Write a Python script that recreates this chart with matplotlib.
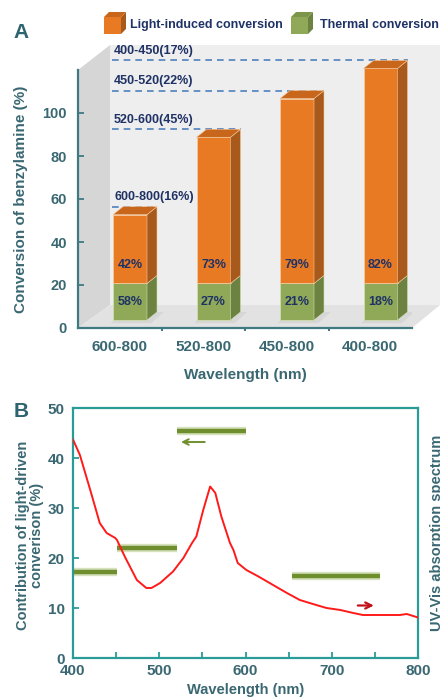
import matplotlib
matplotlib.use("Agg")
import matplotlib.pyplot as plt
from matplotlib.patches import Polygon, Rectangle
import numpy as np

plt.rcParams['font.family'] = ['Liberation Sans', 'DejaVu Sans']
plt.rcParams['font.weight'] = 'bold'

# ---------------- data: panel A ----------------
categories = ['600-800', '520-800', '450-800', '400-800']
thermal = [17, 17, 17, 17]
light = [32, 68, 86, 100]
light_pct = ['42%', '73%', '79%', '82%']
thermal_pct = ['58%', '27%', '21%', '18%']
range_labels = ['600-800(16%)', '520-600(45%)', '450-520(22%)', '400-450(17%)']
yticks_a = [0, 20, 40, 60, 80, 100]

# ---------------- data: panel B ----------------
wl = [400, 408, 420, 431, 439, 449, 451, 460, 474, 485, 491, 501, 516, 528, 538,
      543, 551, 559, 565, 572, 582, 586, 591, 601, 615, 628, 648, 663, 682, 694,
      710, 725, 736, 748, 759, 779, 787, 800]
absorb = [43.7, 40.6, 33.6, 27.0, 25.0, 24.0, 23.6, 20.3, 15.6, 14.0, 14.0, 15.0,
          17.3, 20.0, 23.0, 24.3, 29.6, 34.3, 33.0, 28.3, 23.0, 21.6, 19.0, 17.6,
          16.3, 15.0, 13.0, 11.6, 10.6, 10.0, 9.6, 9.0, 8.6, 8.6, 8.6, 8.6, 8.8, 8.1]
band_start = [400, 451, 520, 654]
band_end = [451, 520, 601, 756]
band_value = [17.2, 22.0, 45.5, 16.5]
green_arrow = [(556, 43.2), (522, 43.2)]
red_arrow = [(727, 10.5), (752, 10.5)]

# ---------------- style ----------------
W, H = 440, 700
teal_txt = '#3a6872'
navy = '#1f3266'
spine_a = '#3f7a80'
spine_b = '#2a9c98'
or_front, or_side, or_top, or_edge = '#E87A24', '#A85A1C', '#C8661C', '#F5C89A'
gr_front, gr_side, gr_top, gr_edge = '#8FA958', '#6C8240', '#7B9549', '#D0DDB0'

fig = plt.figure(figsize=(4.4, 7.0), dpi=100)

def px2fig(x, y):
    return x / W, 1 - y / H

# ---------------- Panel A ----------------
axA = fig.add_axes([78 / W, (H - 328) / H, 334 / W, 258 / H])
axA.set_xlim(0, 4)
axA.set_ylim(0, 120)
sx = 334 / 4.0     # px per x unit
sy = 258 / 120.0   # px per y unit

back_x0 = 32 / sx
back_x1 = 362 / sx
floor_y = 23 / sy
wall_top = 283 / sy

# left wall
axA.add_patch(Polygon([(0, 0), (back_x0, floor_y), (back_x0, wall_top), (0, 120)],
                      closed=True, fc='#d6d6d6', ec='none', zorder=0, clip_on=False))
# back wall
axA.add_patch(Polygon([(back_x0, floor_y), (back_x1, floor_y), (back_x1, wall_top), (back_x0, wall_top)],
                      closed=True, fc='#eeeeee', ec='none', zorder=0, clip_on=False))
# floor
axA.add_patch(Polygon([(0, 0), (4, 0), (back_x1, floor_y), (back_x0, floor_y)],
                      closed=True, fc='#e2e2e2', ec='none', zorder=0.5, clip_on=False))

base = 8 / sy
bw = 34 / sx
ddx = 10 / sx
ddy = 8 / sy

def box(x0, y0, y1, front, side, top, edge, with_top):
    axA.add_patch(Rectangle((x0, y0), bw, y1 - y0, fc=front, ec=edge, lw=0.6, zorder=3, clip_on=False))
    axA.add_patch(Polygon([(x0 + bw, y0), (x0 + bw + ddx, y0 + ddy), (x0 + bw + ddx, y1 + ddy), (x0 + bw, y1)],
                          closed=True, fc=side, ec=edge, lw=0.4, zorder=3, clip_on=False))
    if with_top:
        axA.add_patch(Polygon([(x0, y1), (x0 + bw, y1), (x0 + bw + ddx, y1 + ddy), (x0 + ddx, y1 + ddy)],
                              closed=True, fc=top, ec=edge, lw=0.4, zorder=3, clip_on=False))

for i in range(len(categories)):
    x0 = i + 35 / sx
    # shadow on floor
    axA.add_patch(Polygon([(x0 - 0.03, base - 1.5), (x0 + bw + 0.05, base - 1.5),
                           (x0 + bw + ddx + 0.08, base + ddy), (x0 + ddx, base + ddy)],
                          closed=True, fc='#cfcfcf', ec='none', zorder=1, alpha=0.6))
    g1 = base + thermal[i]
    t1 = g1 + light[i]
    box(x0, base, g1, gr_front, gr_side, gr_top, gr_edge, False)
    box(x0, g1, t1, or_front, or_side, or_top, or_edge, True)
    # dashed reference line
    yd = t1 + ddy
    axA.plot([34 / sx, x0 + bw + ddx], [yd, yd], ls=(0, (4, 3)), color='#4f81bd', lw=1.2,
             zorder=2, clip_on=False)
    axA.text(36 / sx, yd + 1.6, range_labels[i], fontsize=9, fontweight='bold', color=navy,
             ha='left', va='bottom', zorder=4, clip_on=False)
    cx = x0 + bw / 2
    axA.text(cx, g1 + 8.6, light_pct[i], fontsize=9, fontweight='bold', color=navy,
             ha='center', va='center', zorder=5)
    axA.text(cx, base + thermal[i] / 2, thermal_pct[i], fontsize=9, fontweight='bold', color=navy,
             ha='center', va='center', zorder=5)

for s in ['top', 'right']:
    axA.spines[s].set_visible(False)
for s in ['left', 'bottom']:
    axA.spines[s].set_color(spine_a)
    axA.spines[s].set_linewidth(1.6)
    axA.spines[s].set_zorder(6)
axA.set_yticks(yticks_a)
axA.tick_params(axis='y', direction='in', length=4, width=1.3, color=spine_a,
                labelsize=10.5, labelcolor=teal_txt, pad=8)
axA.set_xticks([0.5, 1.5, 2.5, 3.5])
axA.set_xticklabels(categories)
axA.set_xticks([1, 2, 3], minor=True)
axA.tick_params(axis='x', which='major', length=0, labelsize=11, labelcolor=teal_txt, pad=9)
axA.tick_params(axis='x', which='minor', direction='out', length=2.5, width=1.5, color=spine_a)
for lab in axA.get_xticklabels() + axA.get_yticklabels():
    lab.set_fontweight('bold')
axA.set_xlabel('Wavelength (nm)', fontsize=11, fontweight='bold', color=teal_txt, labelpad=10)
axA.set_ylabel('Conversion of benzylamine (%)', fontsize=11, fontweight='bold', color=teal_txt)
axA.yaxis.set_label_coords(-(78 - 28) / 334, 0.5)
axA.patch.set_visible(False)

fig.text(*px2fig(13, 32), 'A', fontsize=15, fontweight='bold', color='#2d6470', ha='left', va='center')

# legend cubes
def cube(xp, yp, front, side, top):
    s = 17
    d = 5
    pts_front = [px2fig(xp, yp + s), px2fig(xp + s, yp + s), px2fig(xp + s, yp), px2fig(xp, yp)]
    pts_side = [px2fig(xp + s, yp + s), px2fig(xp + s + d, yp + s - d), px2fig(xp + s + d, yp - d), px2fig(xp + s, yp)]
    pts_top = [px2fig(xp, yp), px2fig(xp + s, yp), px2fig(xp + s + d, yp - d), px2fig(xp + d, yp - d)]
    for pts, c in [(pts_front, front), (pts_side, side), (pts_top, top)]:
        fig.add_artist(Polygon(pts, closed=True, fc=c, ec='none', transform=fig.transFigure))

cube(104, 17, or_front, or_side, or_top)
fig.text(*px2fig(130, 25), 'Light-induced conversion', fontsize=9, fontweight='bold', color=navy,
         ha='left', va='center')
cube(291, 17, gr_front, gr_side, gr_top)
fig.text(*px2fig(320, 25), 'Thermal conversion', fontsize=9, fontweight='bold', color=navy,
         ha='left', va='center')

# ---------------- Panel B ----------------
axB = fig.add_axes([73 / W, (H - 658) / H, 345 / W, 250 / H])
axB.set_xlim(400, 800)
axB.set_ylim(0, 50)
axB.plot(wl, absorb, color='#ff1a1a', lw=1.4, zorder=3)
for s0, s1, v in zip(band_start, band_end, band_value):
    axB.plot([s0, s1], [v, v], color='#b5c98a', lw=6, alpha=0.55, solid_capstyle='butt', zorder=2)
    axB.plot([s0, s1], [v, v], color='#6f8f2e', lw=3.2, solid_capstyle='butt', zorder=2.5)
axB.annotate('', xy=green_arrow[1], xytext=green_arrow[0],
             arrowprops=dict(arrowstyle='->', color='#6f8f2e', lw=1.4, mutation_scale=10))
axB.annotate('', xy=red_arrow[1], xytext=red_arrow[0],
             arrowprops=dict(arrowstyle='->', color='#c0101a', lw=1.6, mutation_scale=11))
for s in axB.spines.values():
    s.set_color(spine_b)
    s.set_linewidth(1.6)
axB.set_xticks([400, 500, 600, 700, 800])
axB.set_xticks([450, 550, 650, 750], minor=True)
axB.set_yticks([0, 10, 20, 30, 40, 50])
axB.tick_params(which='both', direction='in', length=4, width=1.3, color=spine_b,
                labelsize=11, labelcolor=teal_txt)
axB.tick_params(axis='y', pad=6)
axB.tick_params(axis='x', pad=4)
for lab in axB.get_xticklabels() + axB.get_yticklabels():
    lab.set_fontweight('bold')
axB.set_xlabel('Wavelength (nm)', fontsize=10.5, fontweight='bold', color=teal_txt, labelpad=4)
axB.set_ylabel('Contribution of light-driven\nconverison (%)', fontsize=10.5, fontweight='bold',
               color=teal_txt, linespacing=1.0)
axB.yaxis.set_label_coords(-(73 - 44) / 345, 0.49)
axB.text(1.055, 0.5, 'UV-Vis absorption spectrum', transform=axB.transAxes, rotation=90,
         fontsize=10.5, fontweight='bold', color=teal_txt, ha='center', va='center', clip_on=False)

fig.text(*px2fig(14, 412), 'B', fontsize=15, fontweight='bold', color='#2d6470', ha='left', va='center')

fig.savefig('out.png', dpi=100)
